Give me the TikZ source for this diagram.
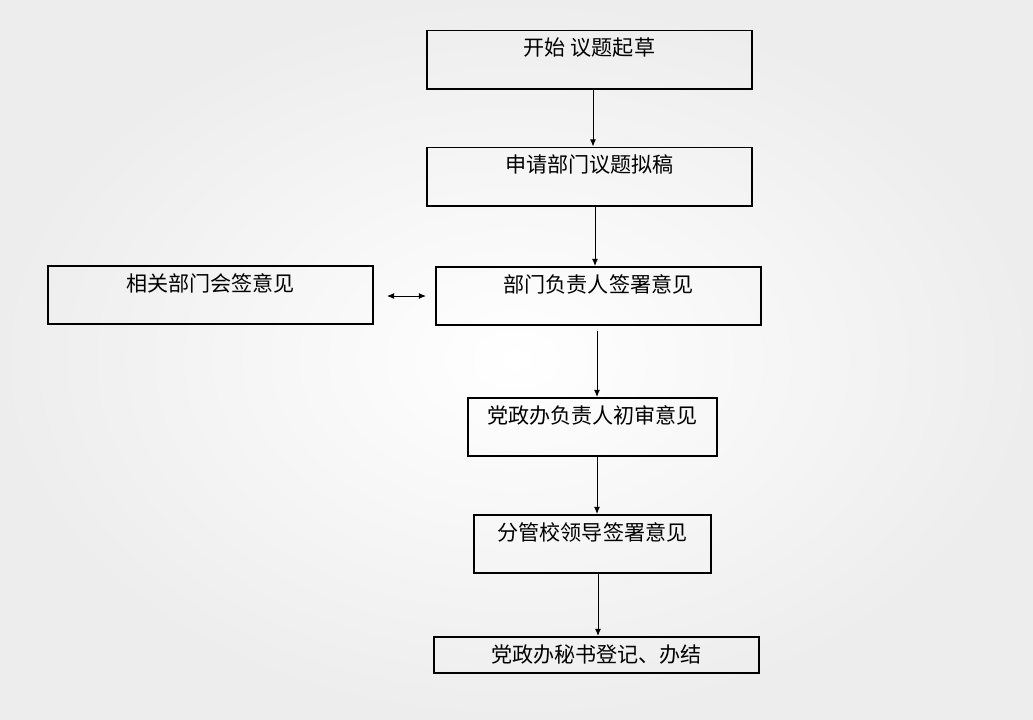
\documentclass[tikz,border=0pt]{standalone}
\usepackage{fontspec}
\setmainfont{Noto Sans CJK SC}
\usetikzlibrary{arrows.meta}
\tikzset{
  box/.style={draw=black,line width=1.7pt,minimum width=#1,minimum height=1.74cm,inner sep=0pt},
  box/.default=9.75cm,
  tip/.style={Latex[length=6pt,width=5pt]},
  flow/.style={-{Latex[length=6pt,width=5pt]},line width=0.8pt},
  both/.style={{Latex[length=6pt,width=5pt]}-{Latex[length=6pt,width=5pt]},line width=0.8pt},
  boxtext/.style={anchor=north,inner sep=0pt,yshift=-7pt,font=\fontsize{18}{21}\selectfont}
}
\begin{document}
\begin{tikzpicture}[x=0.03cm,y=-0.03cm]
         \useasboundingbox (0,0) rectangle (1033,719);
         \shade[inner color=white,outer color=black!7] (0,0) rectangle (1033,719);
         % flow boxes
         \node[box,label={[boxtext]north:开始 议题起草}] (start) at (589.5,59.5) {};
         \node[box,label={[boxtext]north:申请部门议题拟稿}] (draft) at (589.5,176.5) {};
         \node[box,label={[boxtext]north:部门负责人签署意见}] (deptsign) at (598.5,296) {};
         \node[box,label={[boxtext]north:相关部门会签意见}] (cosign) at (210.5,295) {};
         \node[box=7.47cm,label={[boxtext]north:党政办负责人初审意见}] (review) at (592.5,427) {};
         \node[box=7.11cm,label={[boxtext]north:分管校领导签署意见}] (leader) at (592.5,544) {};
         \node[box,minimum height=1.08cm,label={[boxtext]north:党政办秘书登记、办结}] (finish) at (596.5,655) {};
         % arrows
         \draw[flow] ([xshift=0.105cm]start.south) -- ([xshift=0.105cm]start.south |- draft.north) ;
         \draw[flow] ([xshift=0.165cm]draft.south) -- ([xshift=0.165cm]draft.south |- deptsign.north) ;
         \draw[flow] ([xshift=-0.045cm,yshift=-0.15cm]deptsign.south) -- ([xshift=-0.045cm]deptsign.south |- review.north) ;
         \draw[flow] ([xshift=0.135cm]review.south) -- ([xshift=0.135cm]review.south |- leader.north) ;
         \draw[flow] ([xshift=0.165cm]leader.south) -- ([xshift=0.165cm]leader.south |- finish.north) ;
         \draw[both] ([xshift=0.39cm,yshift=-0.03cm]cosign.east) -- ([xshift=-0.27cm]deptsign.west) ;
\end{tikzpicture}
\end{document}
